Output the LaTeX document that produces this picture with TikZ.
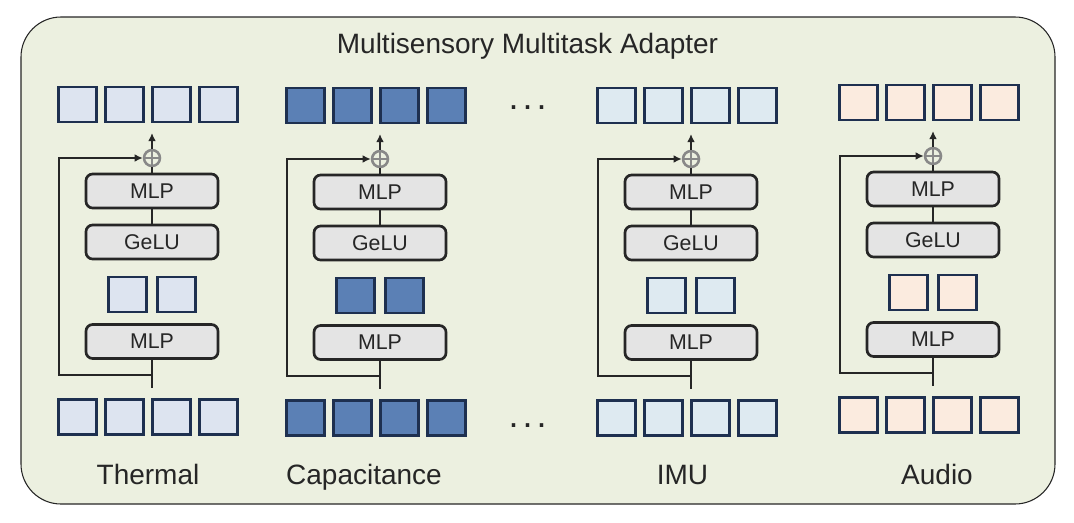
\documentclass[tikz,border=0pt]{standalone}
\usepackage{fontspec}
\setmainfont{Liberation Sans}
\usetikzlibrary{arrows.meta}

\definecolor{panelbg}{RGB}{236,240,224}
\definecolor{sqedge}{RGB}{30,48,80}
\definecolor{thermalc}{RGB}{221,228,240}
\definecolor{capc}{RGB}{91,128,181}
\definecolor{imuc}{RGB}{222,234,241}
\definecolor{audioc}{RGB}{251,235,223}
\definecolor{boxfill}{RGB}{228,228,228}
\definecolor{boxedge}{RGB}{38,38,38}
\definecolor{addc}{RGB}{136,136,136}

\begin{document}
\begin{tikzpicture}[x=0.75pt, y=-0.75pt,
    layer/.style={draw=boxedge, line width=2pt, fill=boxfill, rounded corners=5pt,
        minimum width=99pt, minimum height=25.5pt, inner sep=0pt,
        font=\fontsize{16}{19}\selectfont, text=boxedge},
    token/.style={draw=sqedge, line width=1.9pt, minimum width=28.5pt,
        minimum height=26pt, inner sep=0pt},
    addop/.style={circle, draw=addc, line width=1.9pt, minimum size=12pt, inner sep=0pt,
        path picture={\draw[addc, line width=1.9pt]
            (path picture bounding box.north) -- (path picture bounding box.south)
            (path picture bounding box.west) -- (path picture bounding box.east);}},
    conn/.style={draw=boxedge, line width=1.2pt},
    tip/.style={-{Latex[length=6pt, width=5.8pt]}},
    bigtext/.style={font=\fontsize{21}{25}\selectfont, text=boxedge},
    dotstext/.style={font=\fontsize{27}{30}\selectfont, text=boxedge}]

    \useasboundingbox (0,0) rectangle (1074,522);

    % Panel
    \draw[draw=black!85, line width=0.8pt, fill=panelbg, rounded corners=30pt]
        (21,17) rectangle (1055,504);
    \node[bigtext, anchor=base] (title) at (527.5,53) {Multisensory Multitask Adapter};

    % Dots between Capacitance and IMU
    \node[dotstext, anchor=base] (dots-top) at (527.5,109) {.\hspace{3pt}.\hspace{3pt}.};
    \node[dotstext, anchor=base] (dots-bot) at (527.5,427) {.\hspace{3pt}.\hspace{3pt}.};

    % One adapter per sensor
    \foreach \n/\c/\dy/\col/\lab/\lx in {th/152/-1/thermalc/Thermal/148,
            ca/380/0/capc/Capacitance/364, im/691/0/imuc/IMU/682.5,
            au/933/-3/audioc/Audio/937} {

        \node[bigtext, anchor=base] (lab-\n) at (\lx,484) {\lab};

        \begin{scope}[shift={(0,\dy)}]
            % output tokens
            \foreach \k in {0,...,3}
                \node[token, fill=\col] (out-\n-\k) at ({\c-74.5+47*\k},105.5) {};

            \node[addop] (add-\n) at (\c,159) {};
            \node[layer] (up-\n) at (\c,192) {MLP};
            \node[layer] (act-\n) at (\c,243) {GeLU};
            \node[token, fill=\col] (mid-\n-0) at (\c-24.5,295.5) {};
            \node[token, fill=\col] (mid-\n-1) at (\c+24.5,295.5) {};
            \node[layer] (down-\n) at (\c,342.5) {MLP};

            % input tokens
            \foreach \k in {0,...,3}
                \node[token, fill=\col] (in-\n-\k) at ({\c-74.5+47*\k},418) {};

            \coordinate (split-\n) at (\c,376);
            \coordinate (stem-\n) at (\c,389);
            \coordinate (tipend-\n) at (\c,134);

            \draw[conn] (down-\n.south) -- (stem-\n);
            \draw[conn] (act-\n.north) -- (up-\n.south);
            \draw[conn] (up-\n.north) -- (add-\n.south);
            \draw[conn, tip] (add-\n.north) -- (tipend-\n);
            \draw[conn, tip] (split-\n) -- ++(-93,0) |- (add-\n.west);
        \end{scope}
    }
\end{tikzpicture}
\end{document}
